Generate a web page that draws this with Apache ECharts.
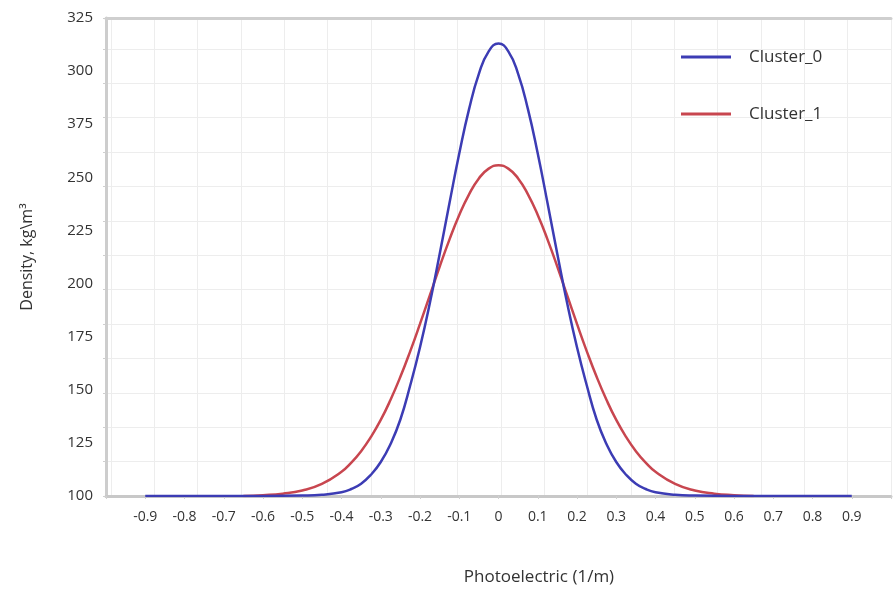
<!DOCTYPE html>
<html>
<head>
<meta charset="utf-8">
<script src="https://cdn.jsdelivr.net/npm/echarts@6/dist/echarts.min.js"></script>
<style>
  html, body { margin: 0; padding: 0; background: #fff; }
  #myChart { width: 894px; height: 596px; }
</style>
</head>
<body>
<div id="myChart"></div>
<script>
// tick labels as printed on the picture (the 275 slot really reads "375")
const xTicks = ["-0.9", "-0.8", "-0.7", "-0.6", "-0.5", "-0.4", "-0.3", "-0.2", "-0.1",
  "0", "0.1", "0.2", "0.3", "0.4", "0.5", "0.6", "0.7", "0.8", "0.9"];
const yTicks = ["100", "125", "150", "175", "200", "225", "250", "375", "300", "325"];

// Cluster_0 (blue)
const xBlue = [-0.9, -0.8, -0.7, -0.6, -0.5, -0.45, -0.4, -0.375, -0.35, -0.325, -0.3, -0.275,
  -0.25, -0.225, -0.2, -0.175, -0.15, -0.125, -0.1, -0.075, -0.05, -0.025, 0,
  0.025, 0.05, 0.075, 0.1, 0.125, 0.15, 0.175, 0.2, 0.225, 0.25, 0.275, 0.3, 0.325,
  0.35, 0.375, 0.4, 0.45, 0.5, 0.6, 0.7, 0.8, 0.9];
const yBlue = [100, 100, 100, 100, 100.2, 100.6, 101.8, 103.3, 105.8, 110, 116, 124.5,
  136, 152, 170, 190.7, 213.8, 237.8, 261.2, 282.1, 298.7, 309.3, 313,
  309.3, 298.7, 282.1, 261.2, 237.8, 213.8, 190.7, 170, 152, 136, 124.5, 116, 110,
  105.8, 103.3, 101.8, 100.6, 100.2, 100, 100, 100, 100];

// Cluster_1 (red)
const xRed = [-0.65, -0.6, -0.55, -0.5, -0.45, -0.4, -0.375, -0.35, -0.325, -0.3, -0.275,
  -0.25, -0.225, -0.2, -0.175, -0.15, -0.125, -0.1, -0.075, -0.05, -0.025, 0,
  0.025, 0.05, 0.075, 0.1, 0.125, 0.15, 0.175, 0.2, 0.225, 0.25, 0.275, 0.3, 0.325,
  0.35, 0.375, 0.4, 0.45, 0.5, 0.55, 0.6, 0.65];
const yRed = [100, 100.4, 101.1, 102.6, 105.7, 111.4, 115.7, 121.1, 127.8, 135.8, 145.3,
  156.1, 168.1, 181, 194.4, 207.9, 220.7, 232.3, 242, 249.5, 254.1, 255.7,
  254.1, 249.5, 242, 232.3, 220.7, 207.9, 194.4, 181, 168.1, 156.1, 145.3, 135.8, 127.8,
  121.1, 115.7, 111.4, 105.7, 102.6, 101.1, 100.4, 100];

const seriesNames = ["Cluster_0", "Cluster_1"];

const font = "'Open Sans', 'DejaVu Sans', sans-serif";
const pairs = (xs, ys) => xs.map((x, i) => [x, ys[i]]);

let myChart = echarts.init(document.getElementById("myChart"));
myChart.setOption({
  backgroundColor: "#fff",
  animation: false,
  textStyle: { fontFamily: font },
  grid: { left: 106, right: 0, top: 18, bottom: 100 },
  legend: {
    orient: "vertical",
    left: 676,
    top: 41,
    itemGap: 35,
    itemWidth: 50,
    itemHeight: 3,
    icon: "rect",
    data: seriesNames,
    textStyle: { fontSize: 17, color: "#333", padding: [0, 0, 0, 13], lineHeight: 22, fontFamily: font },
  },
  xAxis: [
    {
      type: "value",
      min: -1,
      max: 1,
      interval: 0.1,
      axisLine: { show: true, onZero: false, lineStyle: { color: "#c8c8c8", width: 3 } },
      axisTick: { show: true, length: 3, lineStyle: { color: "#d0d0d0" } },
      axisLabel: {
        fontSize: 14,
        color: "#333",
        margin: 14,
        formatter: (v) => xTicks[Math.round((v + 0.9) * 10)] || "",
      },
      splitLine: { show: false },
    },
    {
      // background grid only
      type: "value",
      position: "top",
      inverse: true,
      min: 0,
      max: 18.11,
      interval: 1,
      axisLine: { show: true, onZero: false, lineStyle: { color: "#cfcfcf", width: 3 } },
      axisTick: { show: false },
      axisLabel: { show: false },
      splitLine: { show: true, lineStyle: { color: "#ededed", width: 1 } },
    },
  ],
  yAxis: [
    {
      type: "value",
      min: 100,
      max: 325,
      interval: 25,
      name: "Density, kg\\m³",
      nameLocation: "middle",
      nameRotate: 90,
      nameGap: 71,
      nameTextStyle: { fontSize: 16, color: "#333", fontFamily: font },
      axisLine: { show: true, onZero: false, lineStyle: { color: "#cdcdcd", width: 3 } },
      axisTick: { show: false },
      axisLabel: {
        fontSize: 15,
        color: "#333",
        margin: 13,
        formatter: (v) => yTicks[Math.round((v - 100) / 25)] || "",
      },
      splitLine: { show: false },
    },
    {
      type: "value",
      position: "left",
      min: 0,
      max: 13.9,
      interval: 1,
      axisLine: { show: false, onZero: false },
      axisTick: { show: true, length: 3, lineStyle: { color: "#cfcfcf" } },
      axisLabel: { show: false },
      splitLine: { show: true, lineStyle: { color: "#ededed", width: 1 } },
    },
  ],
  graphic: [
    {
      type: "text",
      x: 539,
      y: 577,
      style: {
        text: "Photoelectric (1/m)",
        fontSize: 17,
        fontFamily: font,
        fill: "#333",
        textAlign: "center",
        textVerticalAlign: "middle",
      },
    },
  ],
  series: [
    {
      name: seriesNames[0],
      type: "line",
      data: pairs(xBlue, yBlue),
      smooth: true,
      showSymbol: false,
      color: "#3c3cb4",
      lineStyle: { width: 2.5, color: "#3c3cb4" },
      z: 3,
    },
    {
      name: seriesNames[1],
      type: "line",
      data: pairs(xRed, yRed),
      smooth: true,
      showSymbol: false,
      color: "#c8464f",
      lineStyle: { width: 2.5, color: "#c8464f" },
      z: 2,
    },
  ],
});
</script>
</body>
</html>
